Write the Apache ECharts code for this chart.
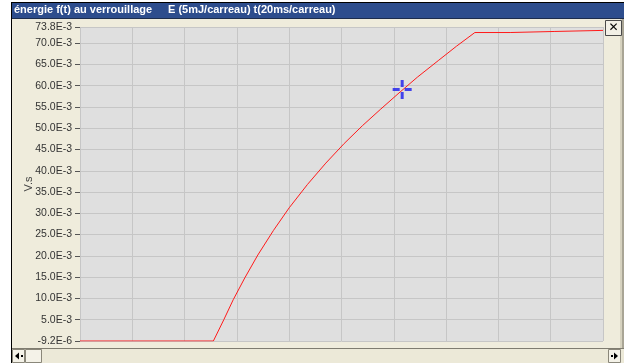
<!DOCTYPE html>
<html>
<head>
<meta charset="utf-8">
<style>
  html, body { margin: 0; padding: 0; background: #ffffff; }
  #chart { width: 624px; height: 363px; }
</style>
<script src="https://cdn.jsdelivr.net/npm/echarts@6/dist/echarts.min.js"></script>
</head>
<body>
<div id="chart"></div>
<script>
// Energy accumulated during locking, E(t), in mJ against time in ms
const timeMs = [0, 51, 55, 58.6, 63, 68, 74, 80, 87, 94, 101, 108, 115, 122, 129, 137, 144, 151, 164.5, 164.5, 181.6, 181.6, 200];
const energyMJ = [-0.0092, -0.0092, 5.0, 9.7, 14.8, 20.2, 26.0, 31.3, 36.8, 41.8, 46.4, 50.6, 54.5, 58.3, 62.0, 65.9, 69.3, 72.5, 72.5, 72.75, 72.75, 73.0, 73.0];

// Cursor position on the curve
const cursorTimeMs = 123.2;
const cursorEnergyMJ = 59.1;

// Vertical scale (V.s) ticks and their printed labels
const yTickValues = [-0.0000092, 0.005, 0.010, 0.015, 0.020, 0.025, 0.030, 0.035, 0.040, 0.045, 0.050, 0.055, 0.060, 0.065, 0.070, 0.0738];
const yTickLabels = ['-9.2E-6', '5.0E-3', '10.0E-3', '15.0E-3', '20.0E-3', '25.0E-3', '30.0E-3', '35.0E-3', '40.0E-3', '45.0E-3', '50.0E-3', '55.0E-3', '60.0E-3', '65.0E-3', '70.0E-3', '73.8E-3'];
const yUnit = 'V.s';

const titleLeft = 'énergie f(t) au verrouillage';
const titleRight = 'E (5mJ/carreau) t(20ms/carreau)';

const curve = timeMs.map((t, i) => [t, energyMJ[i] / 1000]);
const cursor = [[cursorTimeMs, cursorEnergyMJ / 1000]];

const beige = '#efecdc';
const chart = echarts.init(document.getElementById('chart'), null, { renderer: 'canvas' });

chart.setOption({
  animation: false,
  backgroundColor: beige,
  grid: {
    left: 80, top: 27, width: 523, height: 314,
    show: true, backgroundColor: '#dfdfdf', borderWidth: 0
  },
  xAxis: {
    type: 'value', min: 0, max: 200, interval: 20,
    axisLine: { show: false }, axisTick: { show: false }, axisLabel: { show: false },
    splitLine: { show: true, lineStyle: { color: '#c6c6c6', width: 1 } }
  },
  yAxis: {
    type: 'value', min: yTickValues[0], max: yTickValues[yTickValues.length - 1],
    axisLine: { show: false },
    axisTick: { show: true, length: 5, customValues: yTickValues, lineStyle: { color: '#555' } },
    axisLabel: {
      customValues: yTickValues, margin: 8,
      color: '#333', fontSize: 10.5, fontFamily: 'Liberation Sans',
      formatter: function (v) {
        let best = 0;
        for (let i = 1; i < yTickValues.length; i++) {
          if (Math.abs(yTickValues[i] - v) < Math.abs(yTickValues[best] - v)) best = i;
        }
        return yTickLabels[best];
      }
    },
    splitLine: { show: true, lineStyle: { color: '#c6c6c6', width: 1 } }
  },
  series: [
    {
      type: 'line', data: curve, showSymbol: false, symbol: 'none',
      lineStyle: { color: '#ff1a1a', width: 1 }, z: 3
    },
    {
      type: 'scatter', data: cursor, z: 4,
      symbol: 'path://M0,8H7V11H0Z M12,8H19V11H12Z M8,0H11V7H8Z M8,12H11V19H8Z',
      symbolSize: 19, itemStyle: { color: '#1a1aee' }
    }
  ],
  graphic: { elements: [
    // left margin and window frame
    { type: 'rect', shape: { x: 0, y: 0, width: 11, height: 363 }, style: { fill: '#ffffff' }, silent: true },
    { type: 'rect', shape: { x: 0, y: 0, width: 624, height: 2 }, style: { fill: '#ffffff' }, silent: true },
    { type: 'rect', shape: { x: 11, y: 2, width: 1, height: 361 }, style: { fill: '#000000' }, silent: true },
    { type: 'rect', shape: { x: 11, y: 2, width: 613, height: 1 }, style: { fill: '#000000' }, silent: true },
    // vertical unit label
    { type: 'text', x: 29, y: 184, rotation: Math.PI / 2, style: { text: yUnit, fill: '#444', font: '11px "Liberation Sans"', textAlign: 'center', textVerticalAlign: 'middle' }, silent: true },
    // title bar
    { type: 'rect', shape: { x: 12, y: 3, width: 612, height: 15 }, style: { fill: '#2d4d8d' }, silent: true },
    { type: 'rect', shape: { x: 12, y: 18, width: 612, height: 1 }, style: { fill: '#1c2c4c' }, silent: true },
    { type: 'text', x: 14, y: 4, style: { text: titleLeft, fill: '#ffffff', font: 'bold 11px "Liberation Sans"', textVerticalAlign: 'top' }, silent: true },
    { type: 'text', x: 168, y: 4, style: { text: titleRight, fill: '#ffffff', font: 'bold 11px "Liberation Sans"', textVerticalAlign: 'top' }, silent: true },
    // right edge shading
    { type: 'rect', shape: { x: 620, y: 19, width: 4, height: 330 }, style: { fill: '#d6d2bf' }, silent: true },
    { type: 'rect', shape: { x: 622, y: 19, width: 2, height: 330 }, style: { fill: '#a9a595' }, silent: true },
    // close button
    { type: 'rect', shape: { x: 605.5, y: 20.5, width: 16, height: 15 }, style: { fill: '#f2f0e6', stroke: '#4a4a4a', lineWidth: 1 }, silent: true },
    { type: 'text', x: 613.5, y: 28, style: { text: '✕', fill: '#000000', font: 'bold 12px "DejaVu Sans"', textAlign: 'center', textVerticalAlign: 'middle' }, silent: true },
    // horizontal scrollbar
    { type: 'rect', shape: { x: 12, y: 348, width: 612, height: 1 }, style: { fill: '#7f7c70' }, silent: true },
    { type: 'rect', shape: { x: 12, y: 349, width: 612, height: 14 }, style: { fill: '#ece9d8' }, silent: true },
    { type: 'rect', shape: { x: 12.5, y: 349.5, width: 12, height: 13 }, style: { fill: '#f4f2e8', stroke: '#8a877a', lineWidth: 1 }, silent: true },
    { type: 'polygon', shape: { points: [[15, 356], [19, 352.5], [19, 359.5]] }, style: { fill: '#000000' }, silent: true },
    { type: 'rect', shape: { x: 21, y: 355, width: 2, height: 2 }, style: { fill: '#000000' }, silent: true },
    { type: 'rect', shape: { x: 25.5, y: 349.5, width: 16, height: 13 }, style: { fill: '#f4f2e8', stroke: '#8a877a', lineWidth: 1 }, silent: true },
    { type: 'rect', shape: { x: 608.5, y: 349.5, width: 12, height: 13 }, style: { fill: '#f4f2e8', stroke: '#8a877a', lineWidth: 1 }, silent: true },
    { type: 'polygon', shape: { points: [[618, 356], [614, 352.5], [614, 359.5]] }, style: { fill: '#000000' }, silent: true },
    { type: 'rect', shape: { x: 611, y: 355, width: 2, height: 2 }, style: { fill: '#000000' }, silent: true }
  ] }
});
</script>
</body>
</html>
